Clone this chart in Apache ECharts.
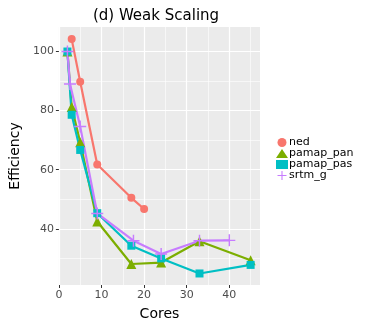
<!DOCTYPE html>
<html>
<head>
<meta charset="utf-8">
<script src="https://cdn.jsdelivr.net/npm/echarts@6/dist/echarts.min.js"></script>
<style>
html, body { margin: 0; padding: 0; background: #fff; }
#chart { width: 374px; height: 327px; }
</style>
</head>
<body>
<div id="chart"></div>
<script>
// values
let nedX = [3, 5, 9, 17, 20];
let nedY = [104.2, 89.8, 61.8, 50.5, 46.7];
let panX = [2, 3, 5, 9, 17, 24, 33, 45];
let panY = [100, 81.2, 69.3, 42.5, 28.1, 28.6, 35.8, 29.4];
let pasX = [2, 3, 5, 9, 17, 24, 33, 45];
let pasY = [100, 78.6, 66.7, 45.3, 34.3, 30, 24.9, 27.8];
let srtmX = [2, 2.6, 5, 9, 17.5, 24, 33, 40];
let srtmY = [100, 89, 74.6, 45.2, 36, 31.5, 36, 36.1];

let xTicks = [0, 10, 20, 30, 40];
let xMinor = [5, 15, 25, 35, 45];
let yTicks = [40, 60, 80, 100];
let yMinor = [30, 50, 70, 90];

const pair = (xs, ys) => xs.map((v, i) => [v, ys[i]]);

let plusPath = 'path://M0,4.4H10V5.6H0Z M4.4,0H5.6V10H4.4Z';

let myChart = echarts.init(document.getElementById('chart'));

const mkSeries = (name, data, color, symbol, size) => ({
    name: name,
    type: 'line',
    data: data,
    symbol: symbol,
    symbolSize: size,
    showSymbol: true,
    color: color,
    lineStyle: { width: 2.2, color: color },
    itemStyle: { color: color, opacity: 1 },
    emphasis: { disabled: true },
    animation: false
});

// hidden helper axis that only draws the thin minor grid lines
const minorAxis = (values, min, max, pos) => ({
    type: 'value',
    min: min,
    max: max,
    position: pos,
    axisLine: { show: false },
    axisTick: { show: false, customValues: values },
    axisLabel: { show: false, customValues: values },
    splitLine: { show: true, lineStyle: { color: '#fff', width: 0.6 } }
});

let option = {
    animation: false,
    title: {
        text: '(d) Weak Scaling',
        left: 151,
        top: 4,
        textAlign: 'center',
        textStyle: { fontFamily: 'DejaVu Sans', fontSize: 15, fontWeight: 'normal', color: '#000' }
    },
    legend: {
        orient: 'vertical',
        left: 271,
        top: 132,
        itemWidth: 12,
        itemHeight: 9,
        itemGap: 0,
        textStyle: { fontFamily: 'DejaVu Sans', fontSize: 11, lineHeight: 11, color: '#000', padding: [0, 0, 0, -4] },
        data: [
            { name: 'ned', icon: 'circle' },
            { name: 'pamap_pan', icon: 'triangle' },
            { name: 'pamap_pas', icon: 'rect' },
            { name: 'srtm_g', icon: plusPath }
        ]
    },
    grid: {
        left: 52.5,
        right: 114,
        top: 27,
        bottom: 42,
        show: true,
        backgroundColor: '#EBEBEB',
        borderWidth: 0
    },
    xAxis: [{
        type: 'value',
        min: 0,
        max: 47.2,
        name: 'Cores',
        nameLocation: 'middle',
        nameGap: 22,
        nameTextStyle: { fontFamily: 'DejaVu Sans', fontSize: 14, color: '#000' },
        axisLine: { show: false },
        axisTick: { show: true, length: 3, customValues: xTicks, lineStyle: { color: '#333', width: 1 } },
        axisLabel: { fontFamily: 'DejaVu Sans', fontSize: 11, color: '#4D4D4D', margin: 5, customValues: xTicks },
        splitLine: { show: true, lineStyle: { color: '#fff', width: 1.2 } }
    }, minorAxis(xMinor, 0, 47.2, 'bottom')],
    yAxis: [{
        type: 'value',
        min: 21,
        max: 108.3,
        name: 'Efficiency',
        nameLocation: 'middle',
        nameGap: 30,
        nameTextStyle: { fontFamily: 'DejaVu Sans', fontSize: 14, color: '#000' },
        axisLine: { show: false },
        axisTick: { show: true, length: 3, customValues: yTicks, lineStyle: { color: '#333', width: 1 } },
        axisLabel: { fontFamily: 'DejaVu Sans', fontSize: 11, color: '#4D4D4D', margin: 5, customValues: yTicks },
        splitLine: { show: true, lineStyle: { color: '#fff', width: 1.2 } }
    }, minorAxis(yMinor, 21, 108.3, 'left')],
    series: [
        mkSeries('ned', pair(nedX, nedY), '#F8766D', 'circle', 8),
        mkSeries('pamap_pan', pair(panX, panY), '#7CAE00', 'triangle', 10),
        mkSeries('pamap_pas', pair(pasX, pasY), '#00BFC4', 'rect', 8),
        mkSeries('srtm_g', pair(srtmX, srtmY), '#C77CFF', plusPath, 12)
    ]
};
myChart.setOption(option);
</script>
</body>
</html>
